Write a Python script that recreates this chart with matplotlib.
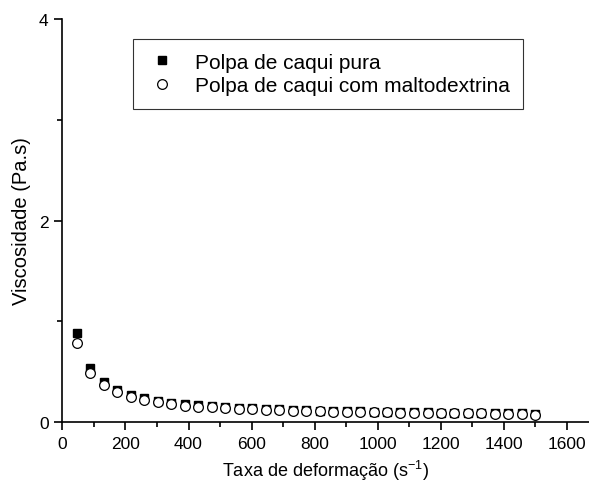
import matplotlib
matplotlib.use("Agg")
from matplotlib import pyplot as plt
from matplotlib.ticker import MultipleLocator

plt.rcParams['font.family'] = ['Liberation Sans', 'DejaVu Sans']

# Shear rate (1/s)
taxa = [46, 89, 131, 174, 217, 260, 302, 345, 388, 431, 474, 516, 559, 602,
        645, 687, 730, 773, 816, 858, 901, 944, 987, 1029, 1072, 1115, 1158,
        1201, 1243, 1286, 1329, 1372, 1414, 1457, 1500]

# Viscosity (Pa.s)
visc_pura = [0.88, 0.54, 0.40, 0.32, 0.27, 0.235, 0.21, 0.19, 0.176, 0.165,
             0.155, 0.147, 0.140, 0.134, 0.129, 0.124, 0.120, 0.116, 0.113,
             0.110, 0.107, 0.105, 0.103, 0.101, 0.099, 0.097, 0.095, 0.094,
             0.092, 0.091, 0.089, 0.088, 0.087, 0.086, 0.080]
visc_malto = [0.78, 0.49, 0.365, 0.295, 0.25, 0.218, 0.195, 0.177, 0.163,
              0.153, 0.145, 0.138, 0.132, 0.126, 0.121, 0.117, 0.113, 0.110,
              0.107, 0.104, 0.102, 0.100, 0.098, 0.096, 0.094, 0.092, 0.091,
              0.089, 0.088, 0.087, 0.085, 0.084, 0.083, 0.082, 0.072]

fig = plt.figure(figsize=(5.89, 4.89), dpi=100)
ax = fig.add_axes([0.106, 0.135, 0.894, 0.824])

ax.plot(taxa, visc_pura, linestyle='none', marker='s', markersize=6.3,
        color='black', label='Polpa de caqui pura')
ax.plot(taxa, visc_malto, linestyle='none', marker='o', markersize=7,
        markerfacecolor='white', markeredgecolor='black', markeredgewidth=0.9,
        label='Polpa de caqui com maltodextrina')

ax.set_xlim(0, 1670)
ax.set_ylim(0, 4)
ax.xaxis.set_major_locator(MultipleLocator(200))
ax.xaxis.set_minor_locator(MultipleLocator(100))
ax.yaxis.set_major_locator(MultipleLocator(2))
ax.yaxis.set_minor_locator(MultipleLocator(1))

for side in ['top', 'right']:
    ax.spines[side].set_visible(False)
for side in ['left', 'bottom']:
    ax.spines[side].set_linewidth(1.2)
ax.tick_params(which='major', direction='out', length=6, width=1.2,
               labelsize=12.5, pad=4)
ax.tick_params(which='minor', direction='out', length=3.5, width=1.2)

ax.set_xlabel('Taxa de deformação (s$^{\\mathregular{-1}}$)', fontsize=13, labelpad=5)
ax.set_ylabel('Viscosidade (Pa.s)', fontsize=14.5, labelpad=6)

leg = ax.legend(loc='upper left', bbox_to_anchor=(0.226, 0.918),
                bbox_transform=fig.transFigure, borderaxespad=0, fontsize=15,
                frameon=True, fancybox=False, edgecolor='black',
                handletextpad=0.8, borderpad=0.65, labelspacing=0.22,
                handlelength=1.5)
leg.get_frame().set_linewidth(0.8)

plt.savefig("out.png", dpi=100)
